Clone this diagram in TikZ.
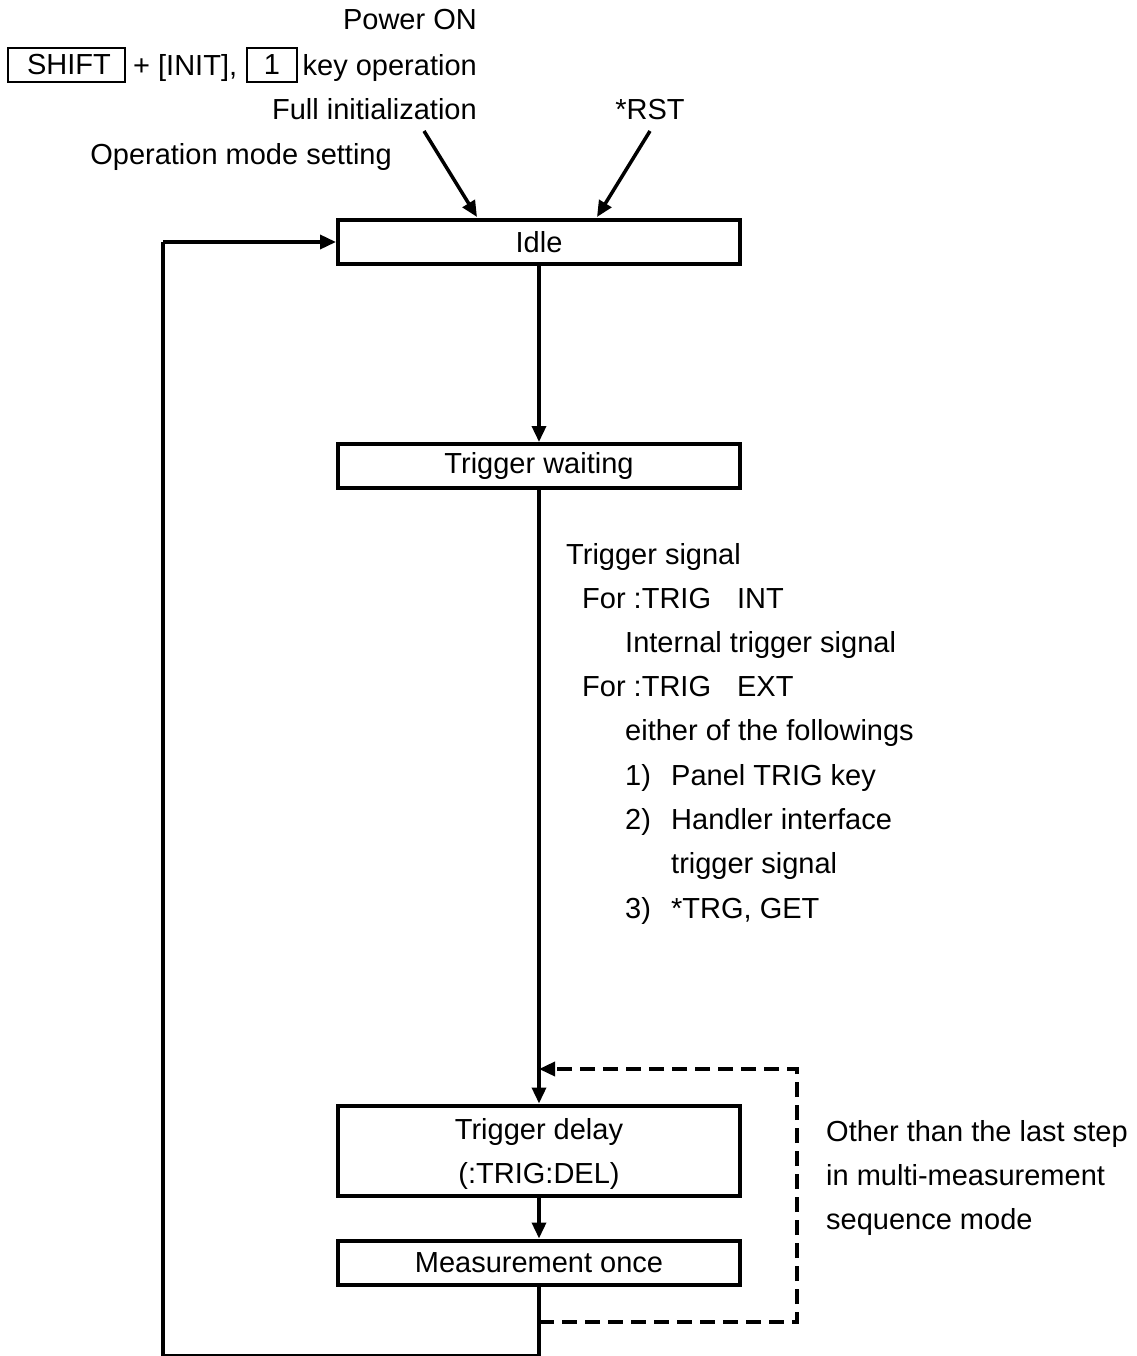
\documentclass[tikz,border=0pt]{standalone}
\usepackage{fontspec}
\setmainfont{Liberation Sans}
\usetikzlibrary{arrows.meta}

\tikzset{
  state/.style={draw, line width=4pt, minimum width=402pt, minimum height=44pt, inner sep=0pt, align=center},
  flow/.style={line width=3.5pt, -{Triangle[length=16pt,width=14pt]}},
  loopback/.style={line width=3.5pt, dash pattern=on 15pt off 8pt, -{Triangle[length=16pt,width=14pt]}},
  keybox/.style={draw, line width=1.5pt, minimum height=34pt, inner sep=0pt},
  lbl/.style={anchor=base west, inner sep=0pt},
  lblr/.style={anchor=base east, inner sep=0pt},
}

\begin{document}
\begin{tikzpicture}[x=1pt, y=-1pt, font=\fontsize{29}{44}\selectfont]
  \useasboundingbox (0,0) rectangle (1136,1356);

  % states
  \node [state] (idle) at (539,242) {Idle};
  \node [state] (wait) at (539,466) {Trigger waiting};
  \node [state, minimum height=90pt, text depth=0pt] (delay) at (539,1150.5) {Trigger delay\\(:TRIG:DEL)};
  \node [state] (meas) at (539,1262.5) {Measurement once};

  % entry conditions
  \node [lblr] (power) at (477,30) {Power ON};
  \node [keybox, minimum width=117pt] (shift) at (66.5,65) {\hspace*{5pt}SHIFT};
  \node [lbl] (init) at (133,76) {+ [INIT],};
  \node [keybox, minimum width=50pt] (one) at (272,65) {1};
  \node [lblr] (keyop) at (477,76) {key operation};
  \node [lblr] (full) at (477,120) {Full initialization};
  \node [anchor=base, inner sep=0pt] (rst) at (650,120) {*RST};
  \node [lblr] (opmode) at (392,165) {Operation mode setting};
  \coordinate (fullend) at (424,131);
  \coordinate (rstend) at (650,131);
  \draw [flow] (fullend) -- (477,217);
  \draw [flow] (rstend) -- (597,217);

  % trigger conditions
  \node [lbl] (trg1) at (566,564) {Trigger signal};
  \node [lbl] (trg2) at (582,608) {For :TRIG\hspace{26pt}INT};
  \node [lbl] (trg3) at (625,652) {Internal trigger signal};
  \node [lbl] (trg4) at (582,696) {For :TRIG\hspace{26pt}EXT};
  \node [lbl] (trg5) at (625,740) {either of the followings};
  \node [lbl] (trg6) at (625,785) {\makebox[46pt][l]{1)}Panel TRIG key};
  \node [lbl] (trg7) at (625,829) {\makebox[46pt][l]{2)}Handler interface};
  \node [lbl] (trg8) at (671,873) {trigger signal};
  \node [lbl] (trg9) at (625,918) {\makebox[46pt][l]{3)}*TRG, GET};

  % repeat note
  \node [lbl] (rep1) at (826,1141) {Other than the last step};
  \node [lbl] (rep2) at (826,1185) {in multi-measurement};
  \node [lbl] (rep3) at (826,1229) {sequence mode};

  % flow
  \draw [flow] (idle) -- (wait);
  \draw [flow] (wait) -- (delay);
  \draw [flow] (delay) -- (meas);

  \coordinate (split) at (539,1322);
  \coordinate (bottom) at (539,1356);
  \coordinate (corner) at (163,1356);
  \coordinate (back) at (163,242);
  \draw [line width=3.5pt] (meas.south) -- (bottom) -- (corner) -- (back);
  \draw [flow] (back) -- (idle.west);

  \coordinate (dr) at (797,1322);
  \coordinate (ur) at (797,1069);
  \coordinate (merge) at (539,1069);
  \draw [loopback] (split) -- (dr) -- (ur) -- (merge);
\end{tikzpicture}
\end{document}
